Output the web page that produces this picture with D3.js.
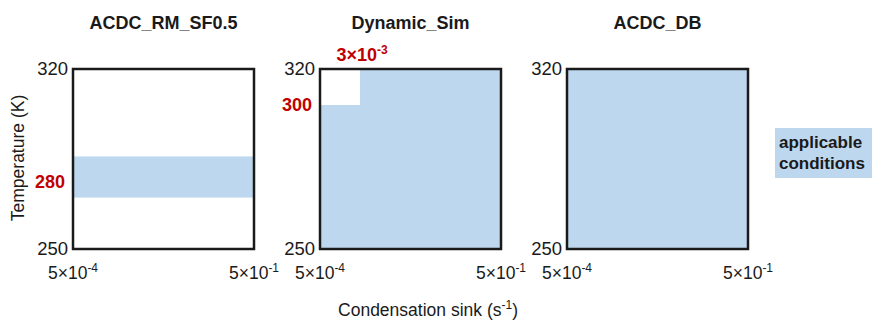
<!DOCTYPE html>
<html>
<head>
<meta charset="utf-8">
<script src="https://cdn.jsdelivr.net/npm/d3@7"></script>
<style>
  html, body { margin: 0; padding: 0; background: #fff; }
  text { font-family: "Liberation Sans", Arial, sans-serif; }
</style>
</head>
<body>
<svg id="chart" width="872" height="321"></svg>
<script>
// ---- data ----
const panelTitles = ["ACDC_RM_SF0.5", "Dynamic_Sim", "ACDC_DB"];
const xDomain = [5e-4, 5e-1];          // condensation sink (s^-1)
const yDomain = [250, 320];            // temperature (K)
const yTickLabels = ["250", "320"];
const xTickMant = ["5\u00d710", "5\u00d710"];
const xTickExp = ["-4", "-1"];
// applicable regions per panel: [csMin, csMax, Tmin, Tmax]
const regionsRM = [[5e-4, 5e-1, 270, 286]];
const regionsDyn = [[5e-4, 5e-1, 250, 306], [2.3e-3, 5e-1, 306, 320]];
const regionsDB = [[5e-4, 5e-1, 250, 320]];
const panelRegions = [regionsRM, regionsDyn, regionsDB];
// red annotations
const tempAnnotPanels = [0, 1];
const tempAnnotText = ["280", "300"];
const tempAnnotValue = [276, 306];
const csAnnotPanel = 1;
const csAnnotMant = "3\u00d710";
const csAnnotExp = "-3";
const csAnnotValue = 2.3e-3;
const legendLines = ["applicable", "conditions"];

// ---- layout ----
const svg = d3.select("#chart");
const fillColor = "#bdd7ee";
const red = "#c00000";
const ink = "#1a1a1a";
const panelLeft = [73, 320, 567];
const panelTop = 69, pw = 181, ph = 180;

const x = d3.scaleLog().domain(xDomain).range([0, pw]);
const y = d3.scaleLinear().domain(yDomain).range([ph, 0]);

panelTitles.forEach((title, i) => {
  const g = svg.append("g").attr("transform", `translate(${panelLeft[i]},${panelTop})`);

  g.selectAll("rect.region").data(panelRegions[i]).enter().append("rect")
    .attr("class", "region")
    .attr("x", d => x(d[0]))
    .attr("width", d => x(d[1]) - x(d[0]))
    .attr("y", d => y(d[3]))
    .attr("height", d => y(d[2]) - y(d[3]))
    .attr("fill", fillColor);

  g.append("rect").attr("x", 0).attr("y", 0).attr("width", pw).attr("height", ph)
    .attr("fill", "none").attr("stroke", ink).attr("stroke-width", 2.5);

  // title
  g.append("text").attr("x", pw / 2).attr("y", -40)
    .attr("text-anchor", "middle").attr("font-size", 18).attr("font-weight", "bold")
    .attr("fill", ink).text(title);

  // y tick labels
  yTickLabels.forEach(t => {
    g.append("text").attr("x", -5).attr("y", y(+t))
      .attr("dy", "0.35em").attr("text-anchor", "end")
      .attr("font-size", 18.5).attr("fill", ink).text(t);
  });

  // x tick labels
  xDomain.forEach((v, k) => {
    const t = g.append("text").attr("x", x(v)).attr("y", ph + 30)
      .attr("text-anchor", "middle").attr("font-size", 17.5).attr("fill", ink);
    t.append("tspan").text(xTickMant[k]);
    t.append("tspan").attr("font-size", 12).attr("dy", -7).text(xTickExp[k]);
  });
});

// red temperature annotations
tempAnnotPanels.forEach((p, k) => {
  svg.append("text")
    .attr("x", panelLeft[p] - 8)
    .attr("y", panelTop + y(tempAnnotValue[k]))
    .attr("dy", "0.35em").attr("text-anchor", "end")
    .attr("font-size", 18).attr("font-weight", "bold").attr("fill", red)
    .text(tempAnnotText[k]);
});

// red CS annotation
{
  const t = svg.append("text")
    .attr("x", panelLeft[csAnnotPanel] + x(csAnnotValue) + 2)
    .attr("y", panelTop - 8)
    .attr("text-anchor", "middle").attr("font-size", 18).attr("font-weight", "bold").attr("fill", red);
  t.append("tspan").text(csAnnotMant);
  t.append("tspan").attr("font-size", 12).attr("dy", -7).text(csAnnotExp);
}

// axis titles
svg.append("text")
  .attr("transform", `translate(24,${panelTop + ph / 2 - 1}) rotate(-90)`)
  .attr("text-anchor", "middle").attr("font-size", 17.5).attr("fill", ink)
  .text("Temperature (K)");

{
  const t = svg.append("text").attr("x", 428).attr("y", 316)
    .attr("text-anchor", "middle").attr("font-size", 17.5).attr("fill", ink);
  t.append("tspan").text("Condensation sink (s");
  t.append("tspan").attr("font-size", 12).attr("dy", -7).text("-1");
  t.append("tspan").attr("dy", 7).text(")");
}

// legend
svg.append("rect").attr("x", 775).attr("y", 128).attr("width", 100).attr("height", 50)
  .attr("fill", fillColor);
legendLines.forEach((l, k) => {
  svg.append("text").attr("x", 779).attr("y", 147.5 + k * 21.5)
    .attr("font-size", 17).attr("font-weight", "bold").attr("fill", ink).text(l);
});
</script>
</body>
</html>
